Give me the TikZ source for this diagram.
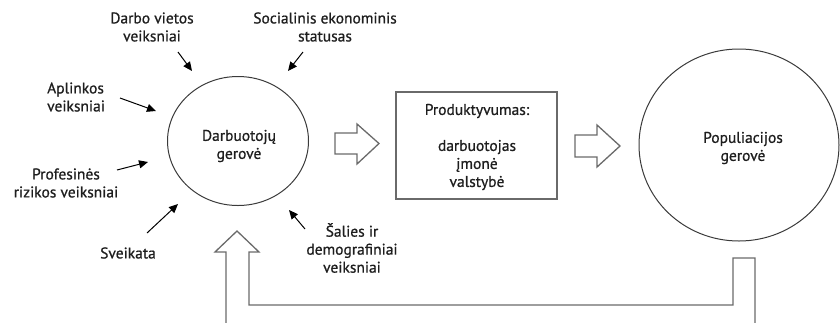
\documentclass[tikz,border=0pt]{standalone}
\usepackage{fontspec}
\setmainfont{PT Sans}[FakeBold=0.8]
\usetikzlibrary{arrows.meta}
\definecolor{txt}{HTML}{1E1E1E}
\definecolor{edge}{HTML}{3A3A3A}
\definecolor{hollow}{HTML}{6A6A6A}
\begin{document}
\begin{tikzpicture}[x=1pt,y=-1pt,
  lbl/.style={font=\fontsize{15.5}{18}\selectfont, text=txt, align=center, inner sep=0pt},
  factor/.style={draw=black, line width=1pt, -{Triangle[length=9pt,width=8pt]}},
  ring/.style={draw=edge, line width=1pt},
  hollowarrow/.style={draw=hollow, line width=1.3pt, line join=miter, fill=white}]
\useasboundingbox (0,0) rectangle (840,322);
% ellipses
\draw[ring] (238,141) ellipse [x radius=70.5, y radius=64.5];
\node[lbl] (worker) at (239,146) {Darbuotojų\\gerovė};
\draw[ring] (739,145) ellipse [x radius=100, y radius=96];
\node[lbl] (popul) at (743,148) {Populiacijos\\gerovė};
% box
\draw[draw=hollow, line width=1.2pt] (396,92) rectangle (557,199);
\node[lbl] (prod) at (477,111) {Produktyvumas:};
\node[lbl] (prodlist) at (477,165) {darbuotojas\\įmonė\\valstybė};
% factor labels
\node[lbl] (f1) at (152,27) {Darbo vietos\\veiksniai};
\node[lbl] (f2) at (325,27) {Socialinis ekonominis\\statusas};
\node[lbl, anchor=west, align=left] (f3) at (47,97) {Aplinkos\\veiksniai};
\node[lbl] (f4) at (66,183) {Profesinės\\rizikos veiksniai};
\node[lbl] (f5) at (128,253) {Sveikata};
\node[lbl] (f6) at (352,248) {Šalies ir\\demografiniai\\veiksniai};
% arrow end points
\coordinate (s1) at (178,52);  \coordinate (e1) at (192,71);
\coordinate (s2) at (303,52);  \coordinate (e2) at (288,71);
\coordinate (s3) at (120,98);  \coordinate (e3) at (156,111);
\coordinate (s4) at (117,170); \coordinate (e4) at (148,162);
\coordinate (s5) at (147,233); \coordinate (e5) at (178,204);
\coordinate (s6) at (305,229); \coordinate (e6) at (289,210);
\draw[factor] (s1) -- (e1);
\draw[factor] (s2) -- (e2);
\draw[factor] (s3) -- (e3);
\draw[factor] (s4) -- (e4);
\draw[factor] (s5) -- (e5);
\draw[factor] (s6) -- (e6);
% hollow arrows
\draw[hollowarrow] (335,133) -- (357,133) -- (357,124) -- (379,143.5) -- (357,164) -- (357,154) -- (335,154) -- cycle;
\draw[hollowarrow] (575,135) -- (597,135) -- (597,125) -- (620,146) -- (597,167) -- (597,157) -- (575,157) -- cycle;
% feedback arrow
\draw[hollowarrow, fill=none] (226,323) -- (226,252) -- (215,252) -- (237,231) -- (259,252) -- (249,252) -- (249,305) -- (733,305) -- (733,258) -- (755,258) -- (755,323);
\end{tikzpicture}
\end{document}
